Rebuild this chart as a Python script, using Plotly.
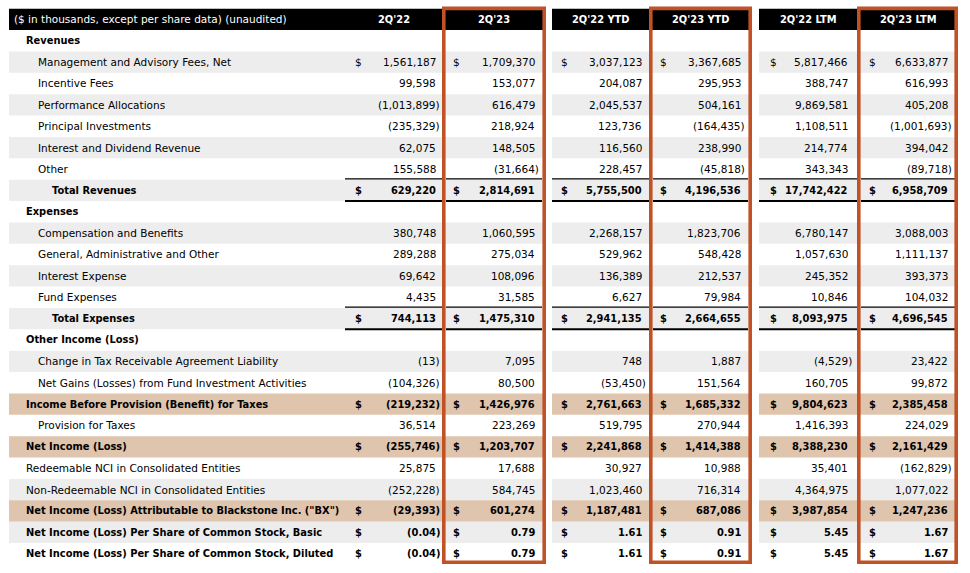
import plotly.graph_objects as go

# ---------------- data ----------------
header_title = "($ in thousands, except per share data) (unaudited)"
periods = ["2Q'22", "2Q'23", "2Q'22 YTD", "2Q'23 YTD", "2Q'22 LTM", "2Q'23 LTM"]

row_labels = [
    "Revenues",
    "Management and Advisory Fees, Net",
    "Incentive Fees",
    "Performance Allocations",
    "Principal Investments",
    "Interest and Dividend Revenue",
    "Other",
    "Total Revenues",
    "Expenses",
    "Compensation and Benefits",
    "General, Administrative and Other",
    "Interest Expense",
    "Fund Expenses",
    "Total Expenses",
    "Other Income (Loss)",
    "Change in Tax Receivable Agreement Liability",
    "Net Gains (Losses) from Fund Investment Activities",
    "Income Before Provision (Benefit) for Taxes",
    "Provision for Taxes",
    "Net Income (Loss)",
    "Redeemable NCI in Consolidated Entities",
    "Non-Redeemable NCI in Consolidated Entities",
    "Net Income (Loss) Attributable to Blackstone Inc. (\"BX\")",
    "Net Income (Loss) Per Share of Common Stock, Basic",
    "Net Income (Loss) Per Share of Common Stock, Diluted",
]

v_2q22 = [None, 1561187, 99598, -1013899, -235329, 62075, 155588, 629220, None,
          380748, 289288, 69642, 4435, 744113, None, -13, -104326, -219232, 36514,
          -255746, 25875, -252228, -29393, -0.04, -0.04]
v_2q23 = [None, 1709370, 153077, 616479, 218924, 148505, -31664, 2814691, None,
          1060595, 275034, 108096, 31585, 1475310, None, 7095, 80500, 1426976, 223269,
          1203707, 17688, 584745, 601274, 0.79, 0.79]
v_2q22_ytd = [None, 3037123, 204087, 2045537, 123736, 116560, 228457, 5755500, None,
              2268157, 529962, 136389, 6627, 2941135, None, 748, -53450, 2761663, 519795,
              2241868, 30927, 1023460, 1187481, 1.61, 1.61]
v_2q23_ytd = [None, 3367685, 295953, 504161, -164435, 238990, -45818, 4196536, None,
              1823706, 548428, 212537, 79984, 2664655, None, 1887, 151564, 1685332, 270944,
              1414388, 10988, 716314, 687086, 0.91, 0.91]
v_2q22_ltm = [None, 5817466, 388747, 9869581, 1108511, 214774, 343343, 17742422, None,
              6780147, 1057630, 245352, 10846, 8093975, None, -4529, 160705, 9804623, 1416393,
              8388230, 35401, 4364975, 3987854, 5.45, 5.45]
v_2q23_ltm = [None, 6633877, 616993, 405208, -1001693, 394042, -89718, 6958709, None,
              3088003, 1111137, 393373, 104032, 4696545, None, 23422, 99872, 2385458, 224029,
              2161429, -162829, 1077022, 1247236, 1.67, 1.67]
columns = [v_2q22, v_2q23, v_2q22_ytd, v_2q23_ytd, v_2q22_ltm, v_2q23_ltm]

# ---------------- row styling ----------------
indent_level = [1, 2, 2, 2, 2, 2, 2, 3, 1, 2, 2, 2, 2, 3, 1, 2, 2, 1, 2, 1, 1, 1, 1, 1, 1]
bold_rows = {0, 7, 8, 13, 14, 17, 19, 22, 23, 24}
dollar_rows = {1, 7, 13, 17, 19, 22, 23, 24}
total_rows = {7, 13}
decimal_rows = {23, 24}
GREY = "#EDEDED"
TAN = "#DFC4AE"
row_fill = [None, GREY, None, GREY, None, GREY, None, GREY, None, GREY, None, GREY, None,
            GREY, None, GREY, None, TAN, None, TAN, None, GREY, TAN, GREY, None]

# ---------------- layout geometry (pixel x, row-unit y) ----------------
W, H = 970, 573
PITCH = 21.375
TOP = 8.625


def yrow(px):
    return -0.5 + (px - TOP) / PITCH


group_x = [(9, 442), (442, 546), (552, 649), (649, 752), (759, 857), (857, 958)]
val_start = [345, 446, 552, 653, 759, 861]
val_end = [442, 542, 649, 748, 857, 955]
dollar_x = [353, 451, 559, 658, 768, 867]
num_right = [437.5, 537, 643.5, 743, 850, 950]
box_cols = [1, 3, 5]
indent_x = {1: 24, 2: 36, 3: 50}
BOX_COLOR = "#C05226"
FONT = "DejaVu Sans"
FS = 10.5
FSB = 9.9


def fmt(v, dec):
    if v is None:
        return ""
    s = f"{abs(v):,.2f}" if dec else f"{abs(v):,.0f}"
    return f"({s})" if v < 0 else s


shapes = []
annotations = []

# header fills
for gi, (x0, x1) in enumerate(group_x):
    shapes.append(dict(type="rect", xref="x", yref="y", x0=x0, x1=x1, y0=-0.5, y1=0.5,
                       fillcolor="black", line=dict(width=0), layer="below"))

# row fills
for i, fc in enumerate(row_fill):
    if fc is None:
        continue
    for (x0, x1) in group_x:
        shapes.append(dict(type="rect", xref="x", yref="y", x0=x0, x1=x1,
                           y0=i + 0.5, y1=i + 1.5, fillcolor=fc, line=dict(width=0),
                           layer="below"))

# total row borders
for i in total_rows:
    for gi in range(len(periods)):
        yt = yrow(TOP + (i + 1) * PITCH - 0.8)
        shapes.append(dict(type="line", xref="x", yref="y", x0=val_start[gi], x1=val_end[gi],
                           y0=yt, y1=yt, line=dict(color="black", width=1.3)))
        shapes.append(dict(type="line", xref="x", yref="y", x0=val_start[gi], x1=val_end[gi],
                           y0=i + 1.5, y1=i + 1.5, line=dict(color="black", width=2.2)))

# highlight boxes
for gi in box_cols:
    x0, x1 = group_x[gi]
    shapes.append(dict(type="rect", xref="x", yref="y", x0=x0 + 1.8, x1=x1 - 1.8,
                       y0=yrow(8.4), y1=yrow(562.3), fillcolor="rgba(0,0,0,0)",
                       line=dict(color=BOX_COLOR, width=3.6)))

# header texts
annotations.append(dict(x=12, y=0, xref="x", yref="y", text=header_title, showarrow=False,
                        xanchor="left", yanchor="middle",
                        font=dict(family=FONT, size=FS, color="white")))
for gi, p in enumerate(periods):
    cx = (val_start[gi] + val_end[gi]) / 2
    annotations.append(dict(x=cx, y=0, xref="x", yref="y", text=f"<b>{p}</b>", showarrow=False,
                            xanchor="center", yanchor="middle",
                            font=dict(family=FONT, size=FSB, color="white")))

# row labels and values
for i, lab in enumerate(row_labels):
    y = i + 1
    b = i in bold_rows
    fs = FSB if b else FS
    txt = f"<b>{lab}</b>" if b else lab
    annotations.append(dict(x=indent_x[indent_level[i]], y=y, xref="x", yref="y", text=txt,
                            showarrow=False, xanchor="left", yanchor="middle",
                            font=dict(family=FONT, size=fs, color="black")))
    for gi, col in enumerate(columns):
        v = col[i]
        if v is None:
            continue
        s = fmt(v, i in decimal_rows)
        xr = num_right[gi] + (4.1 if v < 0 else 0)
        annotations.append(dict(x=xr, y=y, xref="x", yref="y",
                                text=f"<b>{s}</b>" if b else s, showarrow=False,
                                xanchor="right", yanchor="middle",
                                font=dict(family=FONT, size=fs, color="black")))
        if i in dollar_rows:
            annotations.append(dict(x=dollar_x[gi], y=y, xref="x", yref="y",
                                    text="<b>$</b>" if b else "$", showarrow=False,
                                    xanchor="left", yanchor="middle",
                                    font=dict(family=FONT, size=fs, color="black")))

fig = go.Figure()
fig.add_trace(go.Scatter(x=[0, W], y=[0, 0], mode="markers", marker=dict(opacity=0),
                         hoverinfo="skip", showlegend=False))
fig.update_layout(
    width=W, height=H, margin=dict(l=0, r=0, t=0, b=0),
    paper_bgcolor="white", plot_bgcolor="white",
    xaxis=dict(range=[0, W], visible=False, fixedrange=True),
    yaxis=dict(range=[yrow(H), yrow(0)], visible=False, fixedrange=True),
    shapes=shapes, annotations=annotations, showlegend=False,
)
fig.write_html("out.html", post_script="document.body.style.margin='0';",
               config={"displayModeBar": False})
